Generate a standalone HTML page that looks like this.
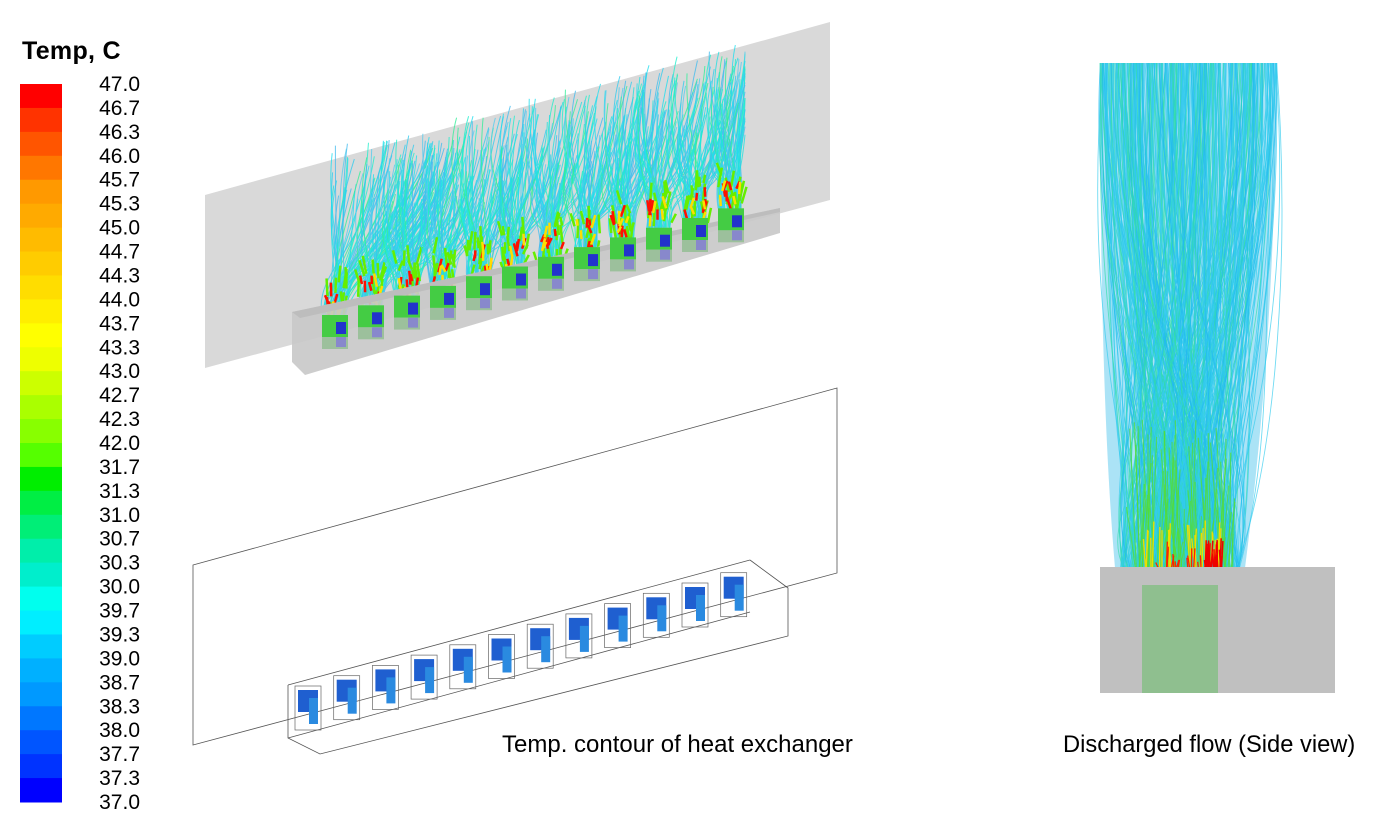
<!DOCTYPE html>
<html><head><meta charset="utf-8"><style>
body{margin:0;background:#fff;width:1378px;height:824px;overflow:hidden;font-family:"Liberation Sans",sans-serif}
svg{position:absolute;left:0;top:0}
</style></head><body>
<svg id="s" width="1378" height="824" viewBox="0 0 1378 824">
<defs>
<radialGradient id="rg" cx="0.5" cy="0.85" r="0.45">
<stop offset="0" stop-color="#66dd33"/><stop offset="0.5" stop-color="#33dd99"/><stop offset="1" stop-color="#55ccee" stop-opacity="0"/>
</radialGradient>
</defs>
<text x="22" y="59" font-size="25" font-weight="bold" font-family="Liberation Sans" letter-spacing="0.3">Temp, C</text>
<g id="leg"></g>
<polygon points="205,195 830,22 830,200 205,368" fill="#d9d9d9"/>
<g id="topstream"></g>
<polygon points="292,312 780,208 780,233 305,375 292,362" fill="#c8c8c8" opacity="0.9"/>
<polygon points="292,312 780,208 780,212 300,318" fill="#bdbdbd"/>
<g id="topunits"></g>
<g fill="none" stroke="#555" stroke-width="0.8">
<polygon points="193,565 837,388 837,573 193,745"/>
<polyline points="288,685 288,738 320,754 788,636 788,588 750,560"/>
<line x1="288" y1="738" x2="750" y2="612"/>
<line x1="288" y1="685" x2="750" y2="560"/>
</g>
<g id="botunits"></g>
<text x="502" y="752" font-size="24">Temp. contour of heat exchanger</text>
<path d="M1115 568 C1105 450 1100 300 1100 63 L1277 63 C1275 300 1260 450 1245 568 Z" fill="#66ccee" opacity="0.55"/>
<ellipse cx="1185" cy="470" rx="65" ry="110" fill="url(#rg)"/>
<g id="rstream"></g>
<rect x="1100" y="567" width="235" height="126" fill="#c0c0c0"/>
<rect x="1142" y="585" width="76" height="108" fill="#8fbf8f"/>
<text x="1063" y="752" font-size="23.7">Discharged flow (Side view)</text>
</svg>
<script>
var NS="http://www.w3.org/2000/svg";
function el(p,t,a){var e=document.createElementNS(NS,t);for(var k in a)e.setAttribute(k,a[k]);document.getElementById(p).appendChild(e);return e;}
var labs=["47.0","46.7","46.3","46.0","45.7","45.3","45.0","44.7","44.3","44.0","43.7","43.3","43.0","42.7","42.3","42.0","31.7","31.3","31.0","30.7","30.3","30.0","39.7","39.3","39.0","38.7","38.3","38.0","37.7","37.3","37.0"];
var cols=["#ff0000","#ff3300","#ff5500","#ff7700","#ff9900","#ffaa00","#ffbb00","#ffcc00","#ffdd00","#ffee00","#ffff00","#eeff00","#ccff00","#aaff00","#88ff00","#55ff00","#00ee00","#00ee44","#00ee77","#00eeaa","#00eecc","#00ffee","#00eeff","#00ccff","#00b0ff","#0099ff","#0077ff","#0055ff","#0033ff","#0000ff"];
var y0=84,h=(802-84)/30;
for(var i=0;i<30;i++)el('leg','rect',{x:20,y:y0+i*h,width:42,height:h+0.5,fill:cols[i]});
for(var i=0;i<31;i++){var t=el('leg','text',{x:140,y:y0+i*h+7,'font-size':21,'text-anchor':'end'});t.textContent=labs[i];}
function rnd(a,b){return a+Math.random()*(b-a);}
var sc=["#22ddee","#33ccee","#22eecc","#44bbee","#33ee99","#55ccee","#22e0e0"];
for(var u=0;u<12;u++){
 var bx=322+u*36,by=315-u*9.7;
 var topY=45+(11-u)*10;
 for(var k=0;k<60;k++){
  var sx=bx+rnd(0,24),sy=by;
  var ex,ey;
  if(u<2){ex=rnd(330,440)+u*30;ey=rnd(140,200);}
  else{ex=bx+rnd(-10,60);ey=rnd(topY,topY+90);}
  if(ex>745)ex=745;
  el('topstream','path',{d:'M'+sx+' '+sy+' C'+(sx+rnd(-10,10))+' '+(sy-40)+' '+(ex-rnd(0,20))+' '+(ey+60)+' '+ex+' '+ey,stroke:sc[k%7],'stroke-width':1,fill:'none',opacity:0.8});
 }
 for(var k=0;k<14;k++){var cx=bx+rnd(0,26),cy=by-rnd(5,50);
  el('topstream','path',{d:'M'+cx+' '+(cy+15)+' l'+rnd(-5,5)+' -'+rnd(8,20),stroke:'#66ee00','stroke-width':2.5,fill:'none'});}
 for(var k=0;k<10;k++){var cx=bx+rnd(2,24),cy=by-rnd(0,30);
  el('topstream','path',{d:'M'+cx+' '+(cy+8)+' l'+rnd(-4,4)+' -'+rnd(6,14),stroke:k<6?'#ff1100':'#ffdd00','stroke-width':2.5,fill:'none'});}
 el('topunits','rect',{x:bx,y:by,width:26,height:22,fill:'#44cc44'});
 el('topunits','rect',{x:bx+14,y:by+7,width:10,height:12,fill:'#2233cc'});
 el('topunits','rect',{x:bx,y:by+22,width:26,height:12,fill:'#88bb88',opacity:0.7});
 el('topunits','rect',{x:bx+14,y:by+22,width:10,height:10,fill:'#8888cc'});
 var ux=296+u*38.7,uy=690-u*10.3;
 el('botunits','rect',{x:ux-1,y:uy-4,width:26,height:44,fill:'none',stroke:'#666','stroke-width':0.7});
 el('botunits','rect',{x:ux+2,y:uy,width:20,height:22,fill:'#1f5fd0'});
 el('botunits','rect',{x:ux+13,y:uy+8,width:9,height:26,fill:'#2a8ae0'});
}
for(var k=0;k<450;k++){
 var sx=rnd(1120,1240),sy=568,ex=rnd(1100,1277),ey=63;
 var c=k%4==0?'#33ddaa':(k%3==0?'#22bbee':'#33ccee');
 el('rstream','path',{d:'M'+sx+' '+sy+' C'+(sx+rnd(-40,40))+' '+rnd(420,520)+' '+(ex+rnd(-20,20))+' '+rnd(250,400)+' '+ex+' '+ey,stroke:c,'stroke-width':0.9,fill:'none',opacity:0.7});
}
for(var k=0;k<80;k++){var x=rnd(1135,1235),y=568-rnd(20,150);
 el('rstream','line',{x1:x,y1:568,x2:x+rnd(-10,10),y2:y,stroke:'#55dd33','stroke-width':1.2,opacity:0.7});}
for(var k=0;k<50;k++){var x=rnd(1145,1225),y=568-rnd(5,50);
 el('rstream','line',{x1:x,y1:568,x2:x+rnd(-3,3),y2:y,stroke:y<540?'#eedd00':'#ff2200','stroke-width':1.3});}
for(var k=0;k<25;k++){var x=rnd(1205,1222),y=568-rnd(5,30);
 el('rstream','line',{x1:x,y1:568,x2:x+rnd(-2,2),y2:y,stroke:'#ee0000','stroke-width':1.5});}
</script>
</body></html>
